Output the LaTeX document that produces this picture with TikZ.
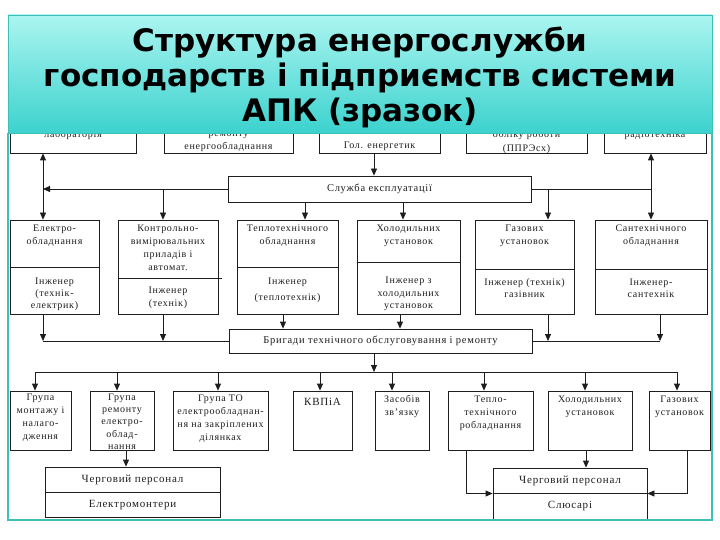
\documentclass[tikz,border=0pt]{standalone}
\usepackage{fontspec}
\newfontfamily\dfont[LetterSpace=7]{Liberation Serif}
\newfontfamily\tfont{DejaVu Sans}
\usetikzlibrary{arrows.meta,fit}
\definecolor{lc}{HTML}{1E1E1E}
\definecolor{frm}{HTML}{3FBFBA}
\definecolor{ttop}{HTML}{ABF5F0}
\definecolor{tbot}{HTML}{3CD2CE}
\begin{document}
\begin{tikzpicture}[x=1pt,y=-1pt,
  bx/.style={draw=lc,line width=0.8pt,inner sep=0pt,rectangle},
  tx/.style={font=\dfont\fontsize{10}{13}\selectfont,align=center,inner sep=0pt,text=lc},
  txb/.style={font=\dfont\fontsize{10.5}{13}\selectfont,align=center,inner sep=0pt,text=lc},
  txc/.style={font=\dfont\fontsize{11}{13}\selectfont,align=center,inner sep=0pt,text=lc},
  ln/.style={draw=lc,line width=0.8pt},
  ar/.style={ln,-{Triangle[length=7pt,width=6pt]}},
  dar/.style={ln,{Triangle[length=7pt,width=6pt]}-{Triangle[length=7pt,width=6pt]}},
  ttl/.style={font=\tfont\bfseries\fontsize{31}{35}\selectfont,anchor=base,inner sep=0pt,text=black}
]
\useasboundingbox (0,0) rectangle (720,540);
\fill[white] (0,0) rectangle (720,540);

% top row (partly hidden under the title)
\node[bx,fit={(10,100) (136,153)}] (t1) {};
\node[bx,fit={(164,100) (293,153)}] (t2) {};
\node[bx,fit={(319,100) (440,153)}] (t3) {};
\node[bx,fit={(466,100) (587,153)}] (t4) {};
\node[bx,fit={(604,100) (706,153)}] (t5) {};
\node[tx] (t1a) at (73,135) {лабораторія};
\node[tx] (t2a) at (228.5,135) {ремонту};
\node[tx] (t2b) at (228.5,147) {енергообладнання};
\node[tx] (t3a) at (379.5,146) {Гол. енергетик};
\node[tx] (t4a) at (526.5,135) {обліку роботи};
\node[tx] (t4b) at (526.5,149) {(ППРЭсх)};
\node[tx] (t5a) at (655,135) {радіотехніка};

% service
\node[bx,fit={(228,176) (531,202)}] (sl) {};
\node[txb] (sla) at (sl.center) {Служба експлуатації};

% second row
\node[bx,fit={(10,220) (99,314)}] (a) {};
\node[bx,fit={(118,220) (218,314)}] (b) {};
\node[bx,fit={(237,220) (338,314)}] (c) {};
\node[bx,fit={(357,220) (460,314)}] (d) {};
\node[bx,fit={(475,220) (574,314)}] (e) {};
\node[bx,fit={(595,220) (707,314)}] (f) {};
\draw[ln] (a.west |- 0,267) -- (a.east |- 0,267);
\draw[ln] (b.west |- 0,278) -- (222,278);
\draw[ln] (c.west |- 0,267) -- (c.east |- 0,267);
\draw[ln] (d.west |- 0,262) -- (d.east |- 0,262);
\draw[ln] (e.west |- 0,269) -- (e.east |- 0,269);
\draw[ln] (f.west |- 0,269) -- (f.east |- 0,269);
\node[tx] (aa) at (54.5,236) {Електро-\\обладнання};
\node[tx,font=\dfont\fontsize{10}{12}\selectfont] (ab) at (54.5,294) {Інженер\\(технік-\\електрик)};
\node[tx] (ba) at (168,248) {Контрольно-\\вимірювальних\\приладів і\\автомат.};
\node[tx] (bb) at (168,298) {Інженер\\(технік)};
\node[tx] (ca) at (287.5,236) {Теплотехнічного\\обладнання};
\node[tx,font=\dfont\fontsize{10}{16}\selectfont] (cb) at (287.5,290) {Інженер\\(теплотехнік)};
\node[tx] (da) at (408.5,236) {Холодильних\\установок};
\node[tx,font=\dfont\fontsize{10}{12.5}\selectfont] (db) at (408.5,294) {Інженер з\\холодильних\\установок};
\node[tx] (ea) at (524.5,236) {Газових\\установок};
\node[tx,font=\dfont\fontsize{10}{12}\selectfont] (eb) at (524.5,288) {Інженер (технік)\\газівник};
\node[tx] (fa) at (651,236) {Сантехнічного\\обладнання};
\node[tx,font=\dfont\fontsize{10}{12}\selectfont] (fb) at (651,288) {Інженер-\\сантехнік};

% brigades
\node[bx,fit={(229,329) (532,353)}] (br) {};
\node[txb] (bra) at (br.center) {Бригади технічного обслуговування і ремонту};

% third row
\node[bx,fit={(10,391) (71,450)}] (g1) {};
\node[bx,fit={(90,391) (154,450)}] (g2) {};
\node[bx,fit={(173,391) (268,450)}] (g3) {};
\node[bx,fit={(293,391) (352,450)}] (g4) {};
\node[bx,fit={(375,391) (429,450)}] (g5) {};
\node[bx,fit={(448,391) (533,450)}] (g6) {};
\node[bx,fit={(548,391) (632,450)}] (g7) {};
\node[bx,fit={(649,391) (710,450)}] (g8) {};
\node[tx] (g1a) at (40.5,418) {Група\\монтажу і\\налаго-\\дження};
\node[tx,font=\dfont\fontsize{10}{12.3}\selectfont] (g2a) at (122,421.5) {Група\\ремонту\\електро-\\облад-\\нання};
\node[tx] (g3a) at (220.5,418.5) {Група ТО\\електрообладнан-\\ня на закріплених\\ділянках};
\node[txc] (g4a) at (322.5,402) {КВПіА};
\node[tx] (g5a) at (402,406.5) {Засобів\\зв’язку};
\node[tx] (g6a) at (490.5,413) {Тепло-\\технічного\\робладнання};
\node[tx] (g7a) at (590,406.5) {Холодильних\\установок};
\node[tx] (g8a) at (679.5,406.5) {Газових\\установок};

% bottom boxes
\node[bx,fit={(45,467) (220,517)}] (h1) {};
\node[bx,fit={(493,468) (647,519)}] (h2) {};
\draw[ln] (h1.west |- 0,492) -- (h1.east |- 0,492);
\draw[ln] (h2.west |- 0,493) -- (h2.east |- 0,493);
\node[txc] (h1a) at (132.5,479.5) {Черговий персонал};
\node[txc] (h1b) at (132.5,505) {Електромонтери};
\node[txc] (h2a) at (570,480.5) {Черговий персонал};
\node[txc] (h2b) at (570,506.5) {Слюсарі};

% vertical line positions
\coordinate (xL) at (43,0);
\coordinate (xB) at (163,0);
\coordinate (xC) at (305,0);
\coordinate (xD) at (403,0);
\coordinate (xE) at (548,0);
\coordinate (xR) at (651,0);
\coordinate (xC2) at (283,0);
\coordinate (xD2) at (400,0);
\coordinate (xF2) at (660,0);
\coordinate (xM) at (374,0);

% connectors: service
\draw[ar] (t3.south -| xM) -- (sl.north -| xM);
\draw[ar] (sl.west) -- (sl.west -| xL);
\draw[dar] (t1.south -| xL) -- (a.north -| xL);
\draw[ar] (sl.west -| xB) -- (b.north -| xB);
\draw[ar] (sl.south -| xC) -- (c.north -| xC);
\draw[ar] (sl.south -| xD) -- (d.north -| xD);
\draw[ln] (sl.east) -- (sl.east -| xR);
\draw[ar] (sl.east -| xE) -- (e.north -| xE);
\draw[dar] (t5.south -| xR) -- (f.north -| xR);

% connectors: brigades
\draw[ar] (c.south -| xC2) -- (br.north -| xC2);
\draw[ar] (d.south -| xD2) -- (br.north -| xD2);
\draw[ln] (br.west) -- (br.west -| xL);
\draw[ar] (a.south -| xL) -- (br.west -| xL);
\draw[ar] (b.south -| xB) -- (br.west -| xB);
\draw[ln] (br.east) -- (br.east -| xF2);
\draw[ar] (e.south -| xE) -- (br.east -| xE);
\draw[ar] (f.south -| xF2) -- (br.east -| xF2);

% bus
\coordinate (p1) at (35,372);
\coordinate (p2) at (117,372);
\coordinate (p3) at (218,372);
\coordinate (p4) at (320,372);
\coordinate (p5) at (392,372);
\coordinate (p6) at (484,372);
\coordinate (p7) at (585,372);
\coordinate (p8) at (677,372);
\draw[ar] (br.south -| xM) -- (xM |- p1);
\draw[ln] (p1) -- (p8);
\draw[ar] (p1) -- (p1 |- g1.north);
\draw[ar] (p2) -- (p2 |- g2.north);
\draw[ar] (p3) -- (p3 |- g3.north);
\draw[ar] (p4) -- (p4 |- g4.north);
\draw[ar] (p5) -- (p5 |- g5.north);
\draw[ar] (p6) -- (p6 |- g6.north);
\draw[ar] (p7) -- (p7 |- g7.north);
\draw[ar] (p8) -- (p8 |- g8.north);

% to duty staff
\coordinate (xG2) at (126,0);
\coordinate (xG6) at (466,0);
\coordinate (xG7) at (586,0);
\coordinate (xG8) at (687,0);
\draw[ar] (g2.south -| xG2) -- (h1.north -| xG2);
\draw[ar] (g7.south -| xG7) -- (h2.north -| xG7);
\draw[ar] (g6.south -| xG6) |- (h2.west);
\draw[ar] (g8.south -| xG8) |- (h2.east);

% teal frame
\draw[frm,line width=1.6pt] (8,133) -- (8,520) -- (712,520) -- (712,133);

% title
\shade[top color=ttop,bottom color=tbot,draw=frm,line width=0.8pt] (8,15) rectangle (712,133);
\node[ttl] (ti1) at (360,52) {Структура енергослужби};
\node[ttl] (ti2) at (360,87) {господарств і підприємств системи};
\node[ttl] (ti3) at (360,122) {АПК (зразок)};
\end{tikzpicture}
\end{document}
